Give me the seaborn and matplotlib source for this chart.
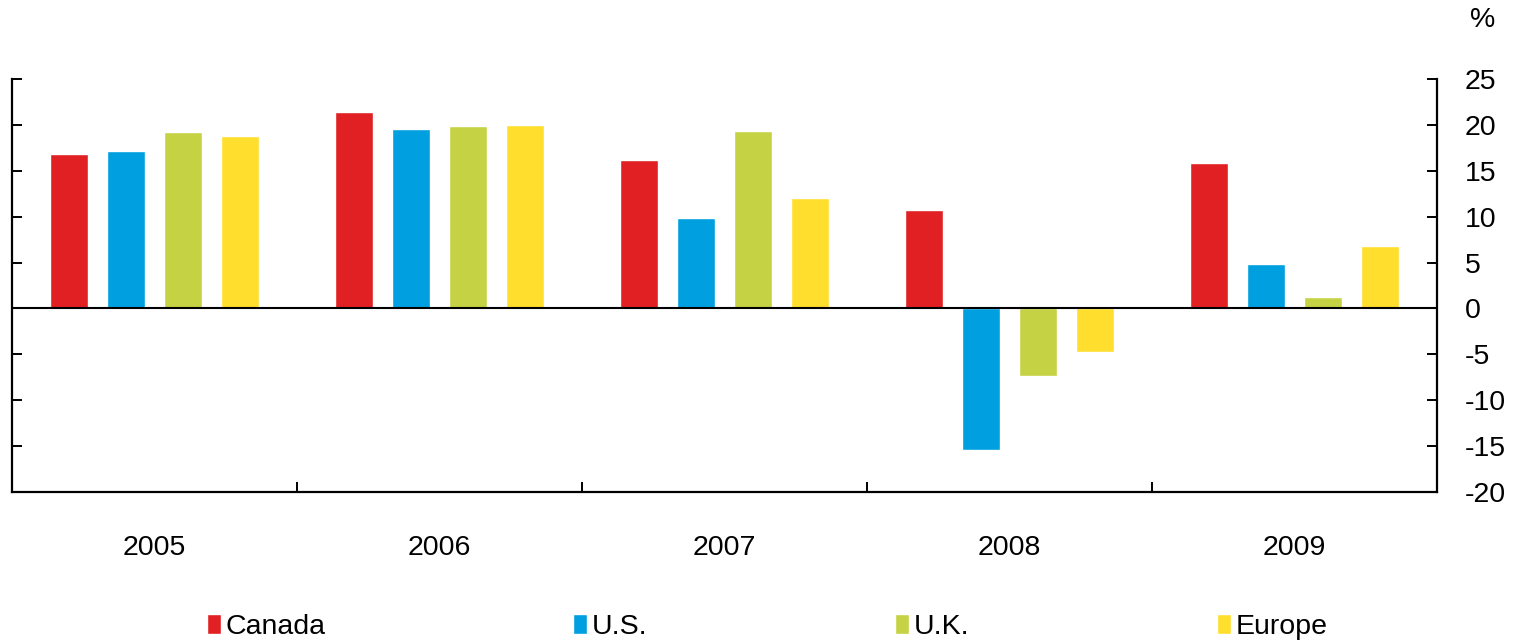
"""
Grouped bar chart of yearly growth (%) for Canada, U.S., U.K. and Europe,
2005 to 2009, with the value axis on the right.
"""
import pandas as pd
import matplotlib.pyplot as plt
import seaborn as sns

years = ["2005", "2006", "2007", "2008", "2009"]
regions = ["Canada", "U.S.", "U.K.", "Europe"]
canada = [16.8, 21.4, 16.2, 10.7, 15.8]
us = [17.1, 19.5, 9.8, -15.4, 4.8]
uk = [19.2, 19.9, 19.3, -7.4, 1.2]
europe = [18.8, 20.0, 12.0, -4.8, 6.8]
colors = ["#E02022", "#00A0E0", "#C4D243", "#FFDE2E"]


def main():
    # long table for seaborn
    rows = []
    for name, vals in zip(regions, [canada, us, uk, europe]):
        for yr, v in zip(years, vals):
            rows.append({"year": yr, "region": name, "value": v})
    df = pd.DataFrame(rows)

    sns.set_style("white")
    plt.rcParams["font.family"] = ["Liberation Sans", "DejaVu Sans"]
    plt.rcParams["axes.unicode_minus"] = False
    plt.rcParams["text.color"] = "black"

    fig = plt.figure(figsize=(15.25, 6.4), dpi=100)
    ax = fig.add_axes([0.0079, 0.2313, 0.9344, 0.6453])

    sns.barplot(data=df, x="year", y="value", hue="region", order=years,
                hue_order=regions, palette=colors, width=0.8, gap=0.33,
                saturation=1, ax=ax, legend=True)

    ax.axhline(0, color="black", lw=1.5, zorder=3)
    ax.set_ylim(-20, 25)
    ax.set_yticks(range(-20, 26, 5))
    ax.set_xlim(-0.5, 4.5)
    ax.set_xlabel("")
    ax.set_ylabel("")

    # spines
    ax.spines["top"].set_visible(False)
    for side in ["left", "right", "bottom"]:
        ax.spines[side].set_color("black")
        ax.spines[side].set_linewidth(1.6)

    ax.tick_params(axis="y", left=True, right=True, labelleft=False,
                   labelright=True, direction="in", length=7, width=1.4,
                   labelsize=20.5, pad=20, colors="black")
    # year labels at group centres, tick marks between groups
    ax.tick_params(axis="x", which="major", length=0, labelsize=20.5,
                   pad=31, labelcolor="black")
    ax.set_xticks([0.5, 1.5, 2.5, 3.5], minor=True)
    ax.tick_params(axis="x", which="minor", bottom=True, direction="in",
                   length=7, width=1.4, color="black")

    fig.text(0.9725, 0.968, "%", fontsize=20.5, ha="center", va="center")

    # legend along the bottom
    handles, labels = ax.get_legend_handles_labels()
    ax.get_legend().remove()
    fig.legend(handles, labels, loc="lower center", ncol=4, frameon=False,
               fontsize=20.5, handlelength=0.5, handleheight=0.7,
               handletextpad=0.15, columnspacing=8.7,
               bbox_to_anchor=(0.503, -0.04))

    plt.savefig("out.png", dpi=100)


if __name__ == '__main__':
    main()
